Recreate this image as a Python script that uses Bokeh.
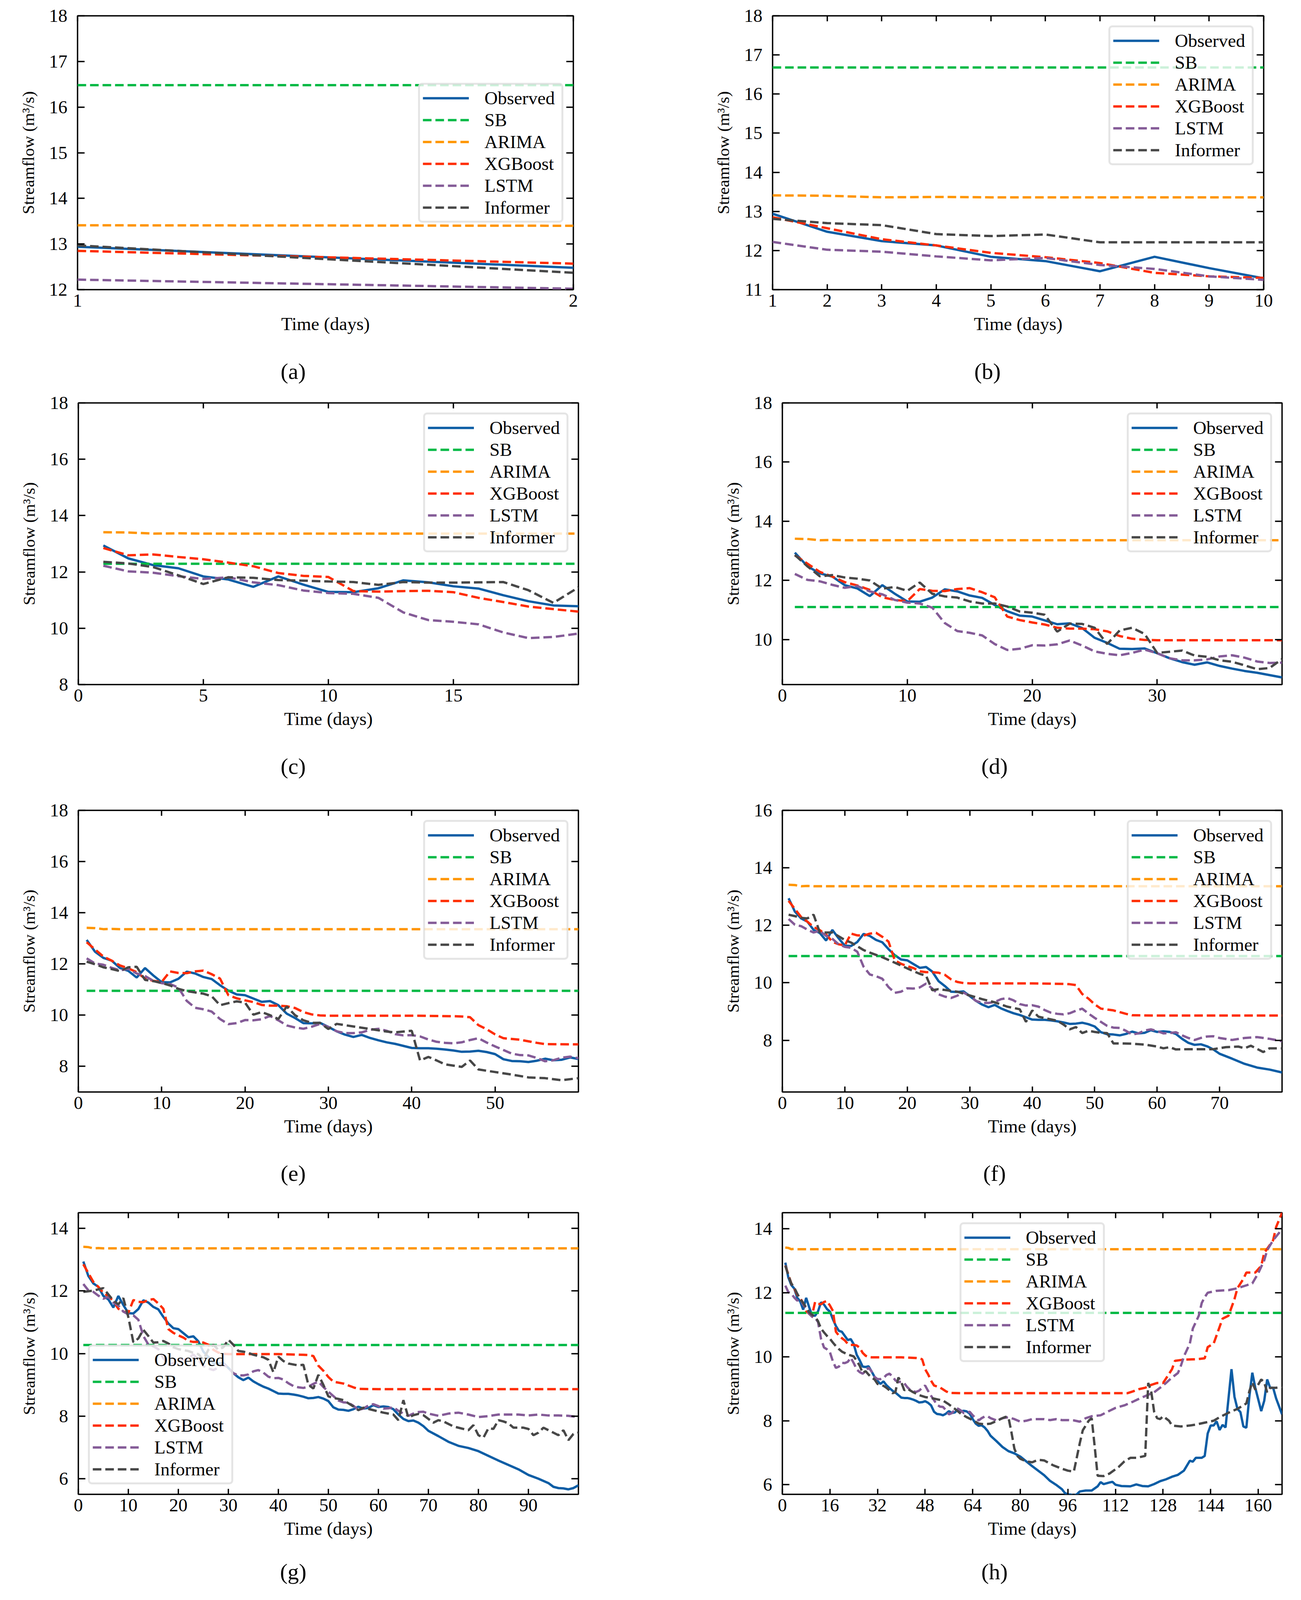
from bokeh.plotting import figure
from bokeh.models import (Range1d, FixedTicker, LinearAxis, Legend, LegendItem,
                          CustomJSTickFormatter)
from bokeh.core.properties import value
from bokeh.layouts import column, row
from bokeh.embed import file_html
from bokeh.resources import INLINE

# ---------------- data ----------------
PANELS = ["a", "b", "c", "d", "e", "f", "g", "h"]
HORIZON = [2, 10, 20, 40, 60, 80, 100, 168]
X_LIMITS = [(1, 2), (1, 10), (0, 20), (0, 40), (0, 60), (0, 80), (0, 100), (0, 168)]
Y_LIMITS = [(12, 18), (11, 18), (8, 18), (8.48, 18), (7.0, 18), (6.2, 16), (5.5, 14.5), (5.7, 14.5)]
X_TICKS = [
    [1, 2],
    [1, 2, 3, 4, 5, 6, 7, 8, 9, 10],
    [0, 5, 10, 15],
    [0, 10, 20, 30],
    [0, 10, 20, 30, 40, 50],
    [0, 10, 20, 30, 40, 50, 60, 70],
    [0, 10, 20, 30, 40, 50, 60, 70, 80, 90],
    [0, 16, 32, 48, 64, 80, 96, 112, 128, 144, 160],
]
Y_TICKS = [
    [12, 13, 14, 15, 16, 17, 18],
    [11, 12, 13, 14, 15, 16, 17, 18],
    [8, 10, 12, 14, 16, 18],
    [10, 12, 14, 16, 18],
    [8, 10, 12, 14, 16, 18],
    [8, 10, 12, 14, 16],
    [6, 8, 10, 12, 14],
    [6, 8, 10, 12, 14],
]
LEGEND_LOC = ["center_right", "top_right", "top_right", "top_right",
              "top_right", "top_right", "bottom_left", "top_center"]
SERIES_NAMES = ["Observed", "SB", "ARIMA", "XGBoost", "LSTM", "Informer"]

# Observed streamflow (shared by all horizons)
OBS_DAY = list(range(1, 71)) + [
    72, 74, 76, 78, 80, 82, 84, 86, 88, 90, 92, 94, 95, 96, 97, 98, 99, 100, 102, 104,
    106, 107, 108, 110, 111, 112, 114, 117, 119, 121, 123, 125, 127, 129, 131, 133, 135, 137, 138, 139,
    141, 142, 143, 144, 145, 146, 147, 148, 149, 150, 151, 152, 153, 154, 155, 156, 157, 158, 159, 161,
    162, 163, 164, 165, 166, 168]
OBS_VAL = [
    12.94, 12.48, 12.24, 12.13, 11.84, 11.73, 11.47, 11.84, 11.55, 11.29,
    11.28, 11.42, 11.70, 11.63, 11.49, 11.41, 11.17, 10.96, 10.81, 10.78,
    10.65, 10.52, 10.55, 10.39, 10.06, 9.89, 9.69, 9.68, 9.70, 9.54,
    9.37, 9.24, 9.15, 9.23, 9.11, 9.02, 8.94, 8.88, 8.80, 8.72,
    8.71, 8.71, 8.69, 8.66, 8.62, 8.57, 8.58, 8.61, 8.56, 8.48,
    8.28, 8.21, 8.20, 8.17, 8.22, 8.30, 8.24, 8.26, 8.35, 8.29,
    8.31, 8.29, 8.22, 8.05, 7.91, 7.84, 7.86, 7.79, 7.68, 7.53,
    7.36, 7.18, 7.05, 6.98, 6.88, 6.73, 6.58, 6.44, 6.30, 6.12,
    6.00, 5.86, 5.74, 5.70, 5.69, 5.66, 5.70, 5.79, 5.82, 5.82,
    5.95, 6.08, 6.02, 6.07, 6.09, 6.00, 5.96, 5.95, 6.01, 5.96,
    5.95, 6.02, 6.11, 6.17, 6.25, 6.31, 6.44, 6.75, 6.72, 6.84,
    6.84, 6.90, 7.60, 7.85, 7.85, 7.98, 7.71, 7.87, 7.79, 8.70,
    9.61, 8.75, 8.37, 8.27, 7.82, 7.78, 8.75, 9.50, 9.03, 8.30,
    8.62, 9.29, 9.03, 9.03, 8.70, 8.20]

# SB: one constant level per horizon
SB_LEVELS = [16.48, 16.68, 12.29, 11.10, 10.95, 10.93, 10.27, 11.37]

# ARIMA: first days, then a constant level
ARIMA_DAY = [1, 2, 3, 4, 5]
ARIMA_VAL = [13.41, 13.40, 13.36, 13.37, 13.36]
ARIMA_LEVEL = 13.36

# XGBoost (shared by all horizons except 20 days)
XGB_DAY = list(range(1, 30)) + [
    30, 35, 40, 45, 46, 47, 48, 49, 50, 51, 53, 54, 55, 56, 60, 80, 100, 116, 118, 120,
    122, 124, 126, 128, 129, 131, 132, 135, 139, 142, 143, 145, 147, 148, 150, 152, 153, 155, 156, 159,
    161, 162, 165, 166, 168]
XGB_VAL = [
    12.85, 12.57, 12.29, 12.13, 11.94, 11.83, 11.68, 11.43, 11.34, 11.30,
    11.71, 11.65, 11.64, 11.71, 11.74, 11.60, 11.43, 10.78, 10.66, 10.58,
    10.51, 10.40, 10.37, 10.37, 10.35, 10.28, 10.12, 10.03, 9.99,
    9.98, 9.98, 9.98, 9.96, 9.95, 9.92, 9.61, 9.45, 9.25, 9.10,
    9.04, 8.98, 8.92, 8.87, 8.86, 8.86, 8.86, 8.86, 8.92, 8.99,
    9.03, 9.12, 9.18, 9.18, 9.32, 9.61, 9.87, 9.91, 9.92, 9.95,
    10.30, 10.41, 10.93, 11.19, 11.28, 11.80, 12.14, 12.43, 12.63, 12.63,
    12.84, 13.24, 13.64, 14.05, 14.50]
XGB_C = [12.85, 12.59, 12.62, 12.53, 12.45, 12.33, 12.20, 11.96, 11.86, 11.82,
         11.32, 11.30, 11.32, 11.33, 11.28, 11.08, 10.93, 10.77, 10.68, 10.59]

# LSTM (shared by all horizons)
LSTM_DAY = list(range(1, 71)) + [
    72, 74, 76, 78, 80, 82, 84, 86, 88, 90, 92, 94, 96, 98, 100, 102, 104, 107, 110, 112,
    115, 118, 120, 122, 125, 127, 129, 131, 133, 134, 135, 137, 138, 140, 141, 142, 143, 146, 150, 153,
    156, 158, 160, 162, 163, 165, 167, 168]
LSTM_VAL = [
    12.22, 12.02, 11.97, 11.85, 11.75, 11.81, 11.63, 11.53, 11.34, 11.25,
    11.22, 11.08, 10.56, 10.29, 10.23, 10.14, 9.85, 9.65, 9.69, 9.81,
    9.80, 9.84, 9.97, 9.80, 9.60, 9.52, 9.47, 9.55, 9.66, 9.54,
    9.37, 9.30, 9.30, 9.33, 9.43, 9.47, 9.39, 9.26, 9.21, 9.22,
    9.17, 9.05, 8.96, 8.92, 8.90, 8.94, 9.03, 9.10, 8.93, 8.78,
    8.64, 8.50, 8.44, 8.43, 8.33, 8.20, 8.24, 8.34, 8.38, 8.32,
    8.24, 8.25, 8.28, 8.17, 8.08, 8.01, 8.08, 8.13, 8.14, 8.08,
    8.01, 8.08, 8.11, 8.05, 7.97, 8.00, 8.05, 8.05, 8.05, 8.02,
    8.05, 8.02, 8.02, 8.01, 7.97, 8.08, 8.14, 8.17, 8.31, 8.40,
    8.48, 8.60, 8.69, 8.77, 8.89, 9.03, 9.18, 9.35, 9.49, 9.72,
    10.01, 10.41, 10.88, 11.28, 11.68, 11.86, 12.00, 12.06, 12.08, 12.14,
    12.23, 12.29, 12.61, 13.01, 13.33, 13.64, 13.87, 14.02]

# Informer (one forecast per horizon)
INF_A = [12.97, 12.37]
INF_B = [12.81, 12.70, 12.65, 12.42, 12.37, 12.41, 12.21, 12.21, 12.21, 12.21]
INF_C = [12.36, 12.30, 12.17, 11.88, 11.57, 11.81, 11.79, 11.71, 11.69, 11.66,
         11.64, 11.54, 11.64, 11.62, 11.62, 11.63, 11.64, 11.35, 10.90, 11.45]
INF_D = [12.86, 12.48, 12.14, 12.18, 12.10, 12.06, 12.00, 11.72, 11.78, 11.65,
         11.93, 11.55, 11.46, 11.42, 11.29, 11.22, 11.22, 11.12, 10.95, 10.91,
         10.84, 10.27, 10.54, 10.53, 10.40, 9.85, 10.31, 10.40, 10.19, 9.55,
         9.59, 9.63, 9.46, 9.42, 9.30, 9.25, 9.13, 9.00, 9.04, 9.34]
INF_E_DAY = list(range(1, 49)) + [50, 52, 54, 56, 58, 60]
INF_E_VAL = [
    12.09, 11.99, 11.87, 11.80, 11.72, 11.87, 11.89, 11.38, 11.33, 11.26,
    11.16, 11.03, 10.94, 10.89, 10.84, 10.74, 10.39, 10.47, 10.54, 10.49,
    10.02, 10.12, 10.00, 9.85, 10.34, 10.00, 9.80, 9.70, 9.70, 9.46,
    9.66, 9.61, 9.56, 9.51, 9.46, 9.41, 9.36, 9.33, 9.36, 9.39,
    8.23, 8.37, 8.23, 8.08, 8.03, 7.98, 8.23, 7.88,
    7.78, 7.68, 7.57, 7.54, 7.46, 7.54]
INF_F_DAY = list(range(1, 15)) + [
    16, 18, 20, 22, 23, 24, 25, 26, 28, 30, 32, 34, 36, 38, 39, 40, 41, 42, 44, 45,
    46, 47, 48, 49, 50, 51, 52, 53, 54, 56, 58, 60, 61, 62, 63, 65, 67, 69, 71, 73,
    74, 75, 77, 78, 80]
INF_F_VAL = [
    12.37, 12.32, 12.26, 12.24, 12.37, 11.75, 11.75, 11.75, 11.62, 11.49,
    11.40, 11.27, 11.14, 11.05,
    10.89, 10.70, 10.50, 10.31, 10.25, 9.74, 9.78, 9.75, 9.69, 9.56,
    9.43, 9.32, 9.17, 9.08, 8.64, 9.04, 8.82, 8.77, 8.68, 8.55,
    8.38, 8.46, 8.25, 8.33, 8.29, 8.26, 8.25, 7.89, 7.89, 7.88,
    7.85, 7.78, 7.72, 7.76, 7.68, 7.69, 7.69, 7.69, 7.76, 7.78,
    7.72, 7.81, 7.59, 7.72, 7.72]
INF_G_DAY = [
    1, 3, 5, 6, 7, 8, 9, 10, 11, 12, 13, 14, 15, 16, 17, 18, 19, 20, 22, 23,
    24, 25, 26, 27, 28, 29, 30, 31, 32, 33, 34, 35, 36, 37, 38, 39, 40, 41, 42, 44,
    45, 46, 47, 48, 49, 50, 51, 52, 53, 55, 56, 57, 59, 61, 63, 64, 65, 66, 67, 68,
    69, 70, 71, 72, 73, 75, 77, 78, 79, 80, 81, 82, 83, 84, 85, 86, 87, 89, 90, 91,
    92, 93, 95, 96, 97, 98, 99, 100]
INF_G_VAL = [
    11.97, 12.01, 12.09, 11.89, 11.69, 11.57, 11.77, 11.16, 10.36, 10.48,
    10.76, 10.56, 10.35, 10.36, 10.40, 10.32, 10.20, 10.14, 10.08, 10.02,
    9.98, 9.80, 10.12, 10.28, 10.12, 10.20, 10.44, 10.28, 10.08, 10.06,
    10.02, 9.96, 9.92, 9.88, 9.80, 9.40, 9.90, 9.76, 9.68, 9.62,
    9.64, 9.00, 8.88, 9.32, 9.00, 8.63, 8.58, 8.55, 8.51, 8.31,
    8.19, 8.27, 8.19, 8.11, 8.05, 7.87, 8.51, 7.95, 8.03, 8.07,
    8.03, 7.91, 7.79, 7.87, 7.83, 7.67, 7.59, 7.55, 7.71, 7.39,
    7.31, 7.61, 7.59, 7.87, 7.83, 7.77, 7.63, 7.63, 7.59, 7.39,
    7.47, 7.63, 7.47, 7.39, 7.55, 7.23, 7.43, 7.47]
INF_H_DAY = list(range(1, 21)) + [
    22, 24, 25, 26, 27, 28, 29, 30, 31, 32, 33, 34, 35, 36, 37, 38, 39, 40, 41, 42,
    44, 46, 48, 50, 52, 54, 56, 58, 60, 62, 64, 66, 68, 70, 72, 74, 75, 76, 77, 78,
    79, 80, 82, 84, 86, 88, 91, 94, 96, 98, 100, 101, 103, 104, 105, 106, 108, 110, 113, 115,
    117, 119, 122, 123, 124, 125, 126, 127, 128, 130, 131, 134, 137, 139, 142, 145, 147, 150, 153, 156,
    157, 158, 159, 161, 162, 163, 164, 166, 168]
INF_H_VAL = [
    12.84, 12.55, 12.29, 12.16, 11.97, 11.80, 11.68, 11.54, 11.39, 11.31,
    11.25, 11.11, 10.88, 10.76, 10.65, 10.56, 10.44, 10.33, 10.24, 10.16,
    10.07, 10.01, 9.87, 9.72, 9.49, 9.55, 9.44, 9.35, 9.29, 9.15,
    9.12, 9.09, 9.03, 8.95, 8.86, 8.89, 9.35, 9.20, 8.95, 9.00,
    8.89, 8.80, 8.74, 8.71, 8.67, 8.63, 8.51, 8.37, 8.22, 8.11,
    8.02, 7.91, 7.89, 7.91, 7.99, 8.08, 8.12, 8.11, 7.65, 7.13,
    6.90, 6.81, 6.73, 6.70, 6.78, 6.76, 6.61, 6.50, 6.44, 6.41,
    7.30, 7.70, 8.00, 8.08, 7.20, 6.28, 6.27, 6.35, 6.55, 6.73,
    6.84, 6.84, 6.90, 9.18, 8.92, 8.28, 8.08, 8.05, 8.14, 8.00,
    7.85, 7.82, 7.85, 7.88, 7.94, 8.00, 8.11, 8.25, 8.37, 8.54,
    8.92, 9.20, 8.97, 9.29, 9.20, 8.89, 9.03, 9.03, 9.06]

# ---------------- style / layout ----------------
FONT = "Liberation Serif"
C_OBS, C_SB, C_ARIMA, C_XGB, C_LSTM, C_INF = "#0C5DA5", "#00B945", "#FF9500", "#FF2C00", "#845B97", "#474747"
FIG_W = 1657
PAGE_W = 2 * FIG_W
ROW_H = [1005, 1035, 1035, 992]      # total height of each row of panels
CAP_H = [114, 138, 130, 92]          # strip under each row that holds the captions
# (left, right, top, bottom) borders of each chart so the frames sit as in the reference
BORDERS = [(198, 190, 32, 150), (320, 80, 40, 149),
           (200, 177, 26, 150), (345, 33, 26, 150),
           (200, 177, 34, 150), (345, 33, 34, 150),
           (200, 177, 29, 150), (345, 33, 29, 150)]
CAP_X = [750, 2527, 750, 2545, 750, 2545, 750, 2545]   # caption centres across the page
CAP_DY = [59, 59, 58, 48]    # caption centre below the top of its strip
LW = 6
DASH = "22 10"
TXT = "47px"


def upto(days, vals, h):
    xs = [d for d in days if d <= h]
    ys = [v for d, v in zip(days, vals) if d <= h]
    return xs, ys


def informer(i):
    daily = {0: INF_A, 1: INF_B, 2: INF_C, 3: INF_D}
    if i in daily:
        v = daily[i]
        return list(range(1, len(v) + 1)), v
    return {4: (INF_E_DAY, INF_E_VAL), 5: (INF_F_DAY, INF_F_VAL),
            6: (INF_G_DAY, INF_G_VAL), 7: (INF_H_DAY, INF_H_VAL)}[i]


def style_axis(ax, ticks, tick_len, show_labels=True):
    ax.ticker = FixedTicker(ticks=ticks, minor_ticks=[])
    ax.axis_line_color = None
    ax.major_tick_in = tick_len
    ax.major_tick_out = 0
    ax.major_tick_line_width = 3.5
    ax.major_tick_line_color = "black"
    ax.minor_tick_line_color = None
    ax.major_label_text_font = FONT
    ax.major_label_text_font_size = TXT
    ax.major_label_text_color = "black"
    ax.axis_label_text_font = FONT
    ax.axis_label_text_font_size = TXT
    ax.axis_label_text_font_style = "normal"
    ax.axis_label_text_color = "black"
    if not show_labels:
        ax.formatter = CustomJSTickFormatter(code="return ''")
        ax.major_label_text_font_size = "0px"
        ax.major_label_standoff = 0


def make_panel(i):
    H = HORIZON[i]
    r = i // 2
    bl, br, bt, bb = BORDERS[i]
    p = figure(width=FIG_W, height=ROW_H[r] - CAP_H[r],
               x_range=Range1d(*X_LIMITS[i]), y_range=Range1d(*Y_LIMITS[i]),
               output_backend="svg", toolbar_location=None,
               min_border_left=bl, min_border_right=br,
               min_border_top=bt, min_border_bottom=bb)
    p.grid.visible = False
    p.outline_line_color = "black"
    p.outline_line_width = 3.5
    p.background_fill_color = "white"
    p.border_fill_color = "white"

    xa = p.xaxis[0]
    ya = p.yaxis[0]
    style_axis(xa, X_TICKS[i], 14)
    style_axis(ya, Y_TICKS[i], 18)
    xa.axis_label = "Time (days)"
    ya.axis_label = "Streamflow (m³/s)"
    ya.axis_label_text_font_size = "43px"
    xa.major_label_standoff = 12
    xa.axis_label_standoff = 15
    ya.major_label_standoff = 26
    ya.axis_label_standoff = 27

    top = LinearAxis()
    style_axis(top, X_TICKS[i], 14, show_labels=False)
    p.add_layout(top, "above")
    rgt = LinearAxis()
    style_axis(rgt, Y_TICKS[i], 18, show_labels=False)
    p.add_layout(rgt, "right")

    ox, oy = upto(OBS_DAY, OBS_VAL, H)
    r_obs = p.line(ox, oy, line_color=C_OBS, line_width=LW)

    r_sb = p.line([1, H], [SB_LEVELS[i], SB_LEVELS[i]], line_color=C_SB,
                  line_width=LW, line_dash=DASH)

    ax_, ay_ = upto(ARIMA_DAY, ARIMA_VAL, H)
    if ax_[-1] < H:
        ax_ = ax_ + [H]
        ay_ = ay_ + [ARIMA_LEVEL]
    r_ar = p.line(ax_, ay_, line_color=C_ARIMA, line_width=LW, line_dash=DASH)

    if i == 2:
        gx, gy = list(range(1, len(XGB_C) + 1)), XGB_C
    else:
        gx, gy = upto(XGB_DAY, XGB_VAL, H)
    r_xgb = p.line(gx, gy, line_color=C_XGB, line_width=LW, line_dash=DASH)

    lx, ly = upto(LSTM_DAY, LSTM_VAL, H)
    r_lstm = p.line(lx, ly, line_color=C_LSTM, line_width=LW, line_dash=DASH)

    ix, iy = informer(i)
    r_inf = p.line(ix, iy, line_color=C_INF, line_width=LW, line_dash=DASH)

    rends = [r_obs, r_sb, r_ar, r_xgb, r_lstm, r_inf]
    legend = Legend(items=[LegendItem(label=n, renderers=[rr]) for n, rr in zip(SERIES_NAMES, rends)],
                    location=LEGEND_LOC[i])
    legend.label_text_font = FONT
    legend.label_text_font_size = TXT
    legend.label_text_color = "black"
    legend.glyph_width = 118
    legend.glyph_height = 44
    legend.label_height = 44
    legend.label_width = 190
    legend.label_standoff = 40
    legend.spacing = 2
    legend.padding = 7
    legend.margin = 25
    legend.border_line_color = "#cccccc"
    legend.border_line_width = 5
    legend.background_fill_color = "white"
    legend.background_fill_alpha = 0.8
    if "border_radius" in Legend.properties():
        legend.border_radius = 10
    p.add_layout(legend)
    return p


def caption_strip(r):
    ch = CAP_H[r]
    s = figure(width=PAGE_W, height=ch, x_range=Range1d(0, PAGE_W), y_range=Range1d(0, ch),
               output_backend="svg", toolbar_location=None,
               x_axis_location=None, y_axis_location=None,
               min_border_left=0, min_border_right=0, min_border_top=0, min_border_bottom=0)
    s.grid.visible = False
    s.outline_line_color = None
    s.background_fill_color = "white"
    s.border_fill_color = "white"
    idx = [2 * r, 2 * r + 1]
    s.text(x=[CAP_X[k] for k in idx], y=[ch - CAP_DY[r], ch - CAP_DY[r]],
           text=["(" + PANELS[k] + ")" for k in idx],
           text_align="center", text_baseline="middle",
           text_font=value(FONT), text_font_size=value("58px"), text_color="black")
    return s


charts = [make_panel(i) for i in range(8)]
rows = []
for r in range(4):
    rows.append(row(charts[2 * r], charts[2 * r + 1]))
    rows.append(caption_strip(r))
layout = column(*rows)

open("out.html", "w").write(file_html(layout, INLINE))
